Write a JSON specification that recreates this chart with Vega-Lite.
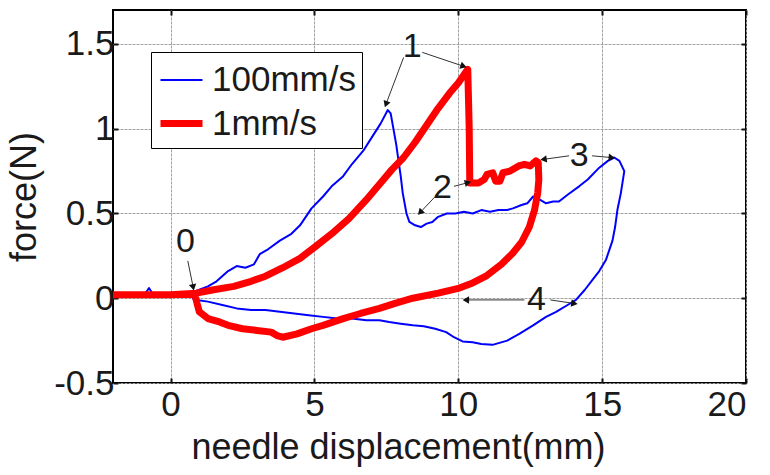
{
  "$schema": "https://vega.github.io/schema/vega-lite/v6.json",
  "width": 633,
  "height": 373,
  "autosize": {"type": "none"},
  "padding": {"left": 113, "top": 10, "right": 24, "bottom": 92},
  "background": "white",
  "config": {
    "font": "Liberation Sans",
    "view": {"stroke": "black", "strokeWidth": 2},
    "axis": {
      "labelFont": "Liberation Sans",
      "titleFont": "Liberation Sans",
      "labelFontSize": 35,
      "titleFontSize": 36,
      "labelColor": "#1a1a1a",
      "titleColor": "#1a1a1a",
      "titleFontWeight": "normal",
      "domain": false,
      "tickColor": "#111",
      "tickWidth": 2,
      "grid": true,
      "gridColor": "#a0a0a0",
      "gridOpacity": 1,
      "gridDash": [2, 2],
      "gridWidth": 1
    }
  },
  "datasets": {
    "curves": [
      {"s": "100mm/s", "i": 1, "x": -2.0, "y": 0.02},
      {"s": "100mm/s", "i": 2, "x": -1.6, "y": 0.02},
      {"s": "100mm/s", "i": 3, "x": -1.2, "y": 0.03},
      {"s": "100mm/s", "i": 4, "x": -0.9, "y": 0.02},
      {"s": "100mm/s", "i": 5, "x": -0.75, "y": 0.06},
      {"s": "100mm/s", "i": 6, "x": -0.6, "y": 0.02},
      {"s": "100mm/s", "i": 7, "x": -0.2, "y": 0.03},
      {"s": "100mm/s", "i": 8, "x": 0.3, "y": 0.02},
      {"s": "100mm/s", "i": 9, "x": 0.7, "y": 0.03},
      {"s": "100mm/s", "i": 10, "x": 1.0, "y": 0.05},
      {"s": "100mm/s", "i": 11, "x": 1.3, "y": 0.07},
      {"s": "100mm/s", "i": 12, "x": 1.6, "y": 0.1},
      {"s": "100mm/s", "i": 13, "x": 2.0, "y": 0.16},
      {"s": "100mm/s", "i": 14, "x": 2.3, "y": 0.19},
      {"s": "100mm/s", "i": 15, "x": 2.6, "y": 0.18},
      {"s": "100mm/s", "i": 16, "x": 2.9, "y": 0.2},
      {"s": "100mm/s", "i": 17, "x": 3.1, "y": 0.26},
      {"s": "100mm/s", "i": 18, "x": 3.4, "y": 0.29},
      {"s": "100mm/s", "i": 19, "x": 3.8, "y": 0.34},
      {"s": "100mm/s", "i": 20, "x": 4.2, "y": 0.38},
      {"s": "100mm/s", "i": 21, "x": 4.5, "y": 0.43},
      {"s": "100mm/s", "i": 22, "x": 4.9, "y": 0.53},
      {"s": "100mm/s", "i": 23, "x": 5.3, "y": 0.6},
      {"s": "100mm/s", "i": 24, "x": 5.6, "y": 0.66},
      {"s": "100mm/s", "i": 25, "x": 6.0, "y": 0.72},
      {"s": "100mm/s", "i": 26, "x": 6.3, "y": 0.79},
      {"s": "100mm/s", "i": 27, "x": 6.7, "y": 0.87},
      {"s": "100mm/s", "i": 28, "x": 7.0, "y": 0.95},
      {"s": "100mm/s", "i": 29, "x": 7.3, "y": 1.03},
      {"s": "100mm/s", "i": 30, "x": 7.55, "y": 1.11},
      {"s": "100mm/s", "i": 31, "x": 7.65, "y": 1.09},
      {"s": "100mm/s", "i": 32, "x": 7.84, "y": 0.91},
      {"s": "100mm/s", "i": 33, "x": 8.0, "y": 0.72},
      {"s": "100mm/s", "i": 34, "x": 8.07, "y": 0.62},
      {"s": "100mm/s", "i": 35, "x": 8.2, "y": 0.5},
      {"s": "100mm/s", "i": 36, "x": 8.3, "y": 0.45},
      {"s": "100mm/s", "i": 37, "x": 8.5, "y": 0.43},
      {"s": "100mm/s", "i": 38, "x": 8.7, "y": 0.42},
      {"s": "100mm/s", "i": 39, "x": 8.9, "y": 0.44},
      {"s": "100mm/s", "i": 40, "x": 9.1, "y": 0.45},
      {"s": "100mm/s", "i": 41, "x": 9.3, "y": 0.48},
      {"s": "100mm/s", "i": 42, "x": 9.6, "y": 0.5},
      {"s": "100mm/s", "i": 43, "x": 9.9, "y": 0.5},
      {"s": "100mm/s", "i": 44, "x": 10.2, "y": 0.51},
      {"s": "100mm/s", "i": 45, "x": 10.5, "y": 0.5},
      {"s": "100mm/s", "i": 46, "x": 10.8, "y": 0.52},
      {"s": "100mm/s", "i": 47, "x": 11.1, "y": 0.51},
      {"s": "100mm/s", "i": 48, "x": 11.4, "y": 0.52},
      {"s": "100mm/s", "i": 49, "x": 11.7, "y": 0.52},
      {"s": "100mm/s", "i": 50, "x": 11.9, "y": 0.53},
      {"s": "100mm/s", "i": 51, "x": 12.2, "y": 0.55},
      {"s": "100mm/s", "i": 52, "x": 12.4, "y": 0.56},
      {"s": "100mm/s", "i": 53, "x": 12.6, "y": 0.6},
      {"s": "100mm/s", "i": 54, "x": 12.85, "y": 0.58},
      {"s": "100mm/s", "i": 55, "x": 13.05, "y": 0.56},
      {"s": "100mm/s", "i": 56, "x": 13.3, "y": 0.57},
      {"s": "100mm/s", "i": 57, "x": 13.5, "y": 0.57},
      {"s": "100mm/s", "i": 58, "x": 13.8, "y": 0.61},
      {"s": "100mm/s", "i": 59, "x": 14.2, "y": 0.66},
      {"s": "100mm/s", "i": 60, "x": 14.5, "y": 0.7},
      {"s": "100mm/s", "i": 61, "x": 14.9, "y": 0.77},
      {"s": "100mm/s", "i": 62, "x": 15.2, "y": 0.81},
      {"s": "100mm/s", "i": 63, "x": 15.42, "y": 0.83},
      {"s": "100mm/s", "i": 64, "x": 15.6, "y": 0.81},
      {"s": "100mm/s", "i": 65, "x": 15.77, "y": 0.75},
      {"s": "100mm/s", "i": 66, "x": 15.65, "y": 0.62},
      {"s": "100mm/s", "i": 67, "x": 15.53, "y": 0.52},
      {"s": "100mm/s", "i": 68, "x": 15.45, "y": 0.42},
      {"s": "100mm/s", "i": 69, "x": 15.36, "y": 0.34},
      {"s": "100mm/s", "i": 70, "x": 15.13, "y": 0.225},
      {"s": "100mm/s", "i": 71, "x": 14.9, "y": 0.16},
      {"s": "100mm/s", "i": 72, "x": 14.67, "y": 0.11},
      {"s": "100mm/s", "i": 73, "x": 14.4, "y": 0.05},
      {"s": "100mm/s", "i": 74, "x": 14.09, "y": -0.01},
      {"s": "100mm/s", "i": 75, "x": 13.8, "y": -0.04},
      {"s": "100mm/s", "i": 76, "x": 13.4, "y": -0.08},
      {"s": "100mm/s", "i": 77, "x": 13.05, "y": -0.11},
      {"s": "100mm/s", "i": 78, "x": 12.6, "y": -0.16},
      {"s": "100mm/s", "i": 79, "x": 12.12, "y": -0.21},
      {"s": "100mm/s", "i": 80, "x": 11.7, "y": -0.25},
      {"s": "100mm/s", "i": 81, "x": 11.19, "y": -0.275},
      {"s": "100mm/s", "i": 82, "x": 10.8, "y": -0.27},
      {"s": "100mm/s", "i": 83, "x": 10.5, "y": -0.26},
      {"s": "100mm/s", "i": 84, "x": 10.15, "y": -0.255},
      {"s": "100mm/s", "i": 85, "x": 9.85, "y": -0.23},
      {"s": "100mm/s", "i": 86, "x": 9.58, "y": -0.2},
      {"s": "100mm/s", "i": 87, "x": 9.2, "y": -0.18},
      {"s": "100mm/s", "i": 88, "x": 8.8, "y": -0.165},
      {"s": "100mm/s", "i": 89, "x": 8.42, "y": -0.16},
      {"s": "100mm/s", "i": 90, "x": 8.0, "y": -0.15},
      {"s": "100mm/s", "i": 91, "x": 7.6, "y": -0.14},
      {"s": "100mm/s", "i": 92, "x": 7.26, "y": -0.13},
      {"s": "100mm/s", "i": 93, "x": 6.8, "y": -0.13},
      {"s": "100mm/s", "i": 94, "x": 6.3, "y": -0.12},
      {"s": "100mm/s", "i": 95, "x": 5.8, "y": -0.12},
      {"s": "100mm/s", "i": 96, "x": 5.3, "y": -0.11},
      {"s": "100mm/s", "i": 97, "x": 4.8, "y": -0.1},
      {"s": "100mm/s", "i": 98, "x": 4.3, "y": -0.09},
      {"s": "100mm/s", "i": 99, "x": 3.8, "y": -0.08},
      {"s": "100mm/s", "i": 100, "x": 3.3, "y": -0.07},
      {"s": "100mm/s", "i": 101, "x": 2.8, "y": -0.07},
      {"s": "100mm/s", "i": 102, "x": 2.3, "y": -0.06},
      {"s": "100mm/s", "i": 103, "x": 1.8, "y": -0.04},
      {"s": "100mm/s", "i": 104, "x": 1.3, "y": -0.02},
      {"s": "100mm/s", "i": 105, "x": 0.9, "y": -0.01},
      {"s": "100mm/s", "i": 106, "x": 0.75, "y": 0.0},
      {"s": "1mm/s", "i": 1, "x": -2.0, "y": 0.02},
      {"s": "1mm/s", "i": 2, "x": -1.0, "y": 0.02},
      {"s": "1mm/s", "i": 3, "x": 0.0, "y": 0.02},
      {"s": "1mm/s", "i": 4, "x": 0.9, "y": 0.03},
      {"s": "1mm/s", "i": 5, "x": 1.5, "y": 0.05},
      {"s": "1mm/s", "i": 6, "x": 2.2, "y": 0.07},
      {"s": "1mm/s", "i": 7, "x": 2.8, "y": 0.1},
      {"s": "1mm/s", "i": 8, "x": 3.3, "y": 0.13},
      {"s": "1mm/s", "i": 9, "x": 3.9, "y": 0.18},
      {"s": "1mm/s", "i": 10, "x": 4.5, "y": 0.235},
      {"s": "1mm/s", "i": 11, "x": 5.0, "y": 0.3},
      {"s": "1mm/s", "i": 12, "x": 5.6, "y": 0.38},
      {"s": "1mm/s", "i": 13, "x": 6.2, "y": 0.47},
      {"s": "1mm/s", "i": 14, "x": 6.8, "y": 0.58},
      {"s": "1mm/s", "i": 15, "x": 7.3, "y": 0.68},
      {"s": "1mm/s", "i": 16, "x": 7.7, "y": 0.76},
      {"s": "1mm/s", "i": 17, "x": 8.1, "y": 0.83},
      {"s": "1mm/s", "i": 18, "x": 8.5, "y": 0.92},
      {"s": "1mm/s", "i": 19, "x": 8.9, "y": 1.02},
      {"s": "1mm/s", "i": 20, "x": 9.3, "y": 1.12},
      {"s": "1mm/s", "i": 21, "x": 9.7, "y": 1.21},
      {"s": "1mm/s", "i": 22, "x": 10.0, "y": 1.27},
      {"s": "1mm/s", "i": 23, "x": 10.33, "y": 1.35},
      {"s": "1mm/s", "i": 24, "x": 10.38, "y": 1.0},
      {"s": "1mm/s", "i": 25, "x": 10.4, "y": 0.68},
      {"s": "1mm/s", "i": 26, "x": 10.7, "y": 0.68},
      {"s": "1mm/s", "i": 27, "x": 10.9, "y": 0.7},
      {"s": "1mm/s", "i": 28, "x": 11.0, "y": 0.73},
      {"s": "1mm/s", "i": 29, "x": 11.2, "y": 0.74},
      {"s": "1mm/s", "i": 30, "x": 11.3, "y": 0.69},
      {"s": "1mm/s", "i": 31, "x": 11.45, "y": 0.69},
      {"s": "1mm/s", "i": 32, "x": 11.55, "y": 0.74},
      {"s": "1mm/s", "i": 33, "x": 11.8, "y": 0.75},
      {"s": "1mm/s", "i": 34, "x": 12.1, "y": 0.78},
      {"s": "1mm/s", "i": 35, "x": 12.3, "y": 0.79},
      {"s": "1mm/s", "i": 36, "x": 12.5, "y": 0.78},
      {"s": "1mm/s", "i": 37, "x": 12.7, "y": 0.81},
      {"s": "1mm/s", "i": 38, "x": 12.78, "y": 0.8},
      {"s": "1mm/s", "i": 39, "x": 12.8, "y": 0.7},
      {"s": "1mm/s", "i": 40, "x": 12.76, "y": 0.62},
      {"s": "1mm/s", "i": 41, "x": 12.65, "y": 0.52},
      {"s": "1mm/s", "i": 42, "x": 12.47, "y": 0.42},
      {"s": "1mm/s", "i": 43, "x": 12.2, "y": 0.33},
      {"s": "1mm/s", "i": 44, "x": 11.89, "y": 0.265},
      {"s": "1mm/s", "i": 45, "x": 11.5, "y": 0.2},
      {"s": "1mm/s", "i": 46, "x": 10.96, "y": 0.13},
      {"s": "1mm/s", "i": 47, "x": 10.5, "y": 0.09},
      {"s": "1mm/s", "i": 48, "x": 10.04, "y": 0.06},
      {"s": "1mm/s", "i": 49, "x": 9.3, "y": 0.03},
      {"s": "1mm/s", "i": 50, "x": 8.42, "y": 0.0},
      {"s": "1mm/s", "i": 51, "x": 7.8, "y": -0.03},
      {"s": "1mm/s", "i": 52, "x": 7.26, "y": -0.06},
      {"s": "1mm/s", "i": 53, "x": 6.6, "y": -0.09},
      {"s": "1mm/s", "i": 54, "x": 6.0, "y": -0.12},
      {"s": "1mm/s", "i": 55, "x": 5.3, "y": -0.16},
      {"s": "1mm/s", "i": 56, "x": 4.9, "y": -0.18},
      {"s": "1mm/s", "i": 57, "x": 4.4, "y": -0.21},
      {"s": "1mm/s", "i": 58, "x": 3.9, "y": -0.23},
      {"s": "1mm/s", "i": 59, "x": 3.7, "y": -0.22},
      {"s": "1mm/s", "i": 60, "x": 3.5, "y": -0.2},
      {"s": "1mm/s", "i": 61, "x": 3.0, "y": -0.19},
      {"s": "1mm/s", "i": 62, "x": 2.5, "y": -0.18},
      {"s": "1mm/s", "i": 63, "x": 2.0, "y": -0.16},
      {"s": "1mm/s", "i": 64, "x": 1.7, "y": -0.14},
      {"s": "1mm/s", "i": 65, "x": 1.3, "y": -0.12},
      {"s": "1mm/s", "i": 66, "x": 1.0, "y": -0.08},
      {"s": "1mm/s", "i": 67, "x": 0.92, "y": -0.03},
      {"s": "1mm/s", "i": 68, "x": 0.85, "y": 0.02}
    ],
    "arrows": [
      {"x": 0.6, "y": 0.22, "x2": 0.78, "y2": 0.07},
      {"x": 8.1, "y": 1.42, "x2": 7.5, "y2": 1.15},
      {"x": 8.75, "y": 1.45, "x2": 10.15, "y2": 1.37},
      {"x": 9.85, "y": 0.66, "x2": 10.3, "y2": 0.68},
      {"x": 9.2, "y": 0.6, "x2": 8.7, "y2": 0.51},
      {"x": 13.85, "y": 0.84, "x2": 13.0, "y2": 0.82},
      {"x": 14.65, "y": 0.84, "x2": 15.3, "y2": 0.83},
      {"x": 12.3, "y": -0.01, "x2": 10.3, "y2": -0.01},
      {"x": 13.2, "y": -0.01, "x2": 14.0, "y2": -0.03}
    ],
    "labels": [
      {"t": "0", "x": 0.52, "y": 0.33},
      {"t": "1", "x": 8.4, "y": 1.48},
      {"t": "2", "x": 9.45, "y": 0.65},
      {"t": "3", "x": 14.2, "y": 0.84},
      {"t": "4", "x": 12.72, "y": -0.01}
    ]
  },
  "layer": [
    {
      "data": {"name": "curves"},
      "mark": {"type": "line", "strokeJoin": "round", "clip": true},
      "encoding": {
        "x": {
          "field": "x", "type": "quantitative",
          "scale": {"domain": [-2, 20], "nice": false, "zero": false},
          "axis": {
            "values": [0, 5, 10, 15, 20],
            "title": "needle displacement(mm)",
            "titlePadding": 8,
            "titleX": 285,
            "titleAlign": "center",
            "labelPadding": 9,
            "tickSize": -5,
            "grid": true,
            "labelExpr": "toString(datum.value)"
          }
        },
        "y": {
          "field": "y", "type": "quantitative",
          "scale": {"domain": [-0.5, 1.7], "nice": false, "zero": false},
          "axis": {
            "values": [-0.5, 0, 0.5, 1, 1.5],
            "title": "force(N)",
            "titlePadding": 10,
            "labelPadding": 4,
            "tickSize": -5,
            "grid": true,
            "labelExpr": "toString(datum.value)"
          }
        },
        "order": {"field": "i", "type": "quantitative"},
        "color": {
          "field": "s", "type": "nominal",
          "scale": {"domain": ["100mm/s", "1mm/s"], "range": ["#0000ff", "#ff0000"]},
          "legend": {
            "title": null,
            "orient": "none",
            "legendX": 38,
            "legendY": 42,
            "symbolType": "stroke",
            "symbolSize": 1764,
            "labelFontSize": 35,
            "labelFont": "Liberation Sans",
            "labelColor": "#1a1a1a",
            "labelOffset": 6,
            "rowPadding": 1,
            "padding": 6,
            "strokeColor": "black",
            "fillColor": "white"
          }
        },
        "strokeWidth": {
          "field": "s", "type": "nominal",
          "scale": {"domain": ["100mm/s", "1mm/s"], "range": [2, 7]},
          "legend": {
            "title": null,
            "orient": "none",
            "legendX": 38,
            "legendY": 42,
            "symbolType": "stroke",
            "symbolSize": 1764,
            "labelFontSize": 35,
            "labelOffset": 6,
            "rowPadding": 1,
            "padding": 6,
            "strokeColor": "black",
            "fillColor": "white"
          }
        }
      }
    },
    {
      "data": {"name": "arrows"},
      "mark": {"type": "rule", "color": "#333333", "strokeWidth": 1},
      "encoding": {
        "x": {"field": "x", "type": "quantitative", "axis": null},
        "y": {"field": "y", "type": "quantitative", "axis": null},
        "x2": {"field": "x2"},
        "y2": {"field": "y2"}
      }
    },
    {
      "data": {"name": "arrows"},
      "transform": [
        {"calculate": "atan2((datum.x2-datum.x)*28.77, (datum.y2-datum.y)*169.5)*180/PI", "as": "ang"}
      ],
      "mark": {"type": "point", "shape": "triangle", "filled": true, "color": "#111111", "size": 55, "opacity": 1},
      "encoding": {
        "x": {"field": "x2", "type": "quantitative", "axis": null},
        "y": {"field": "y2", "type": "quantitative", "axis": null},
        "angle": {"field": "ang", "type": "quantitative", "scale": null}
      }
    },
    {
      "data": {"name": "labels"},
      "mark": {"type": "text", "fontSize": 34, "font": "Liberation Sans", "color": "#1a1a1a", "align": "center", "baseline": "middle"},
      "encoding": {
        "x": {"field": "x", "type": "quantitative", "axis": null},
        "y": {"field": "y", "type": "quantitative", "axis": null},
        "text": {"field": "t"}
      }
    },
    {
      "data": {"name": "labels"},
      "mark": {"type": "point", "opacity": 0},
      "encoding": {
        "x": {
          "field": "x", "type": "quantitative",
          "axis": {"orient": "top", "values": [0, 5, 10, 15, 20], "labels": false, "title": null, "tickSize": -5, "grid": true}
        },
        "y": {
          "field": "y", "type": "quantitative",
          "axis": {"orient": "right", "values": [-0.5, 0, 0.5, 1, 1.5], "labels": false, "title": null, "tickSize": -5, "grid": true}
        }
      }
    }
  ],
  "resolve": {"axis": {"x": "independent", "y": "independent"}}
}
